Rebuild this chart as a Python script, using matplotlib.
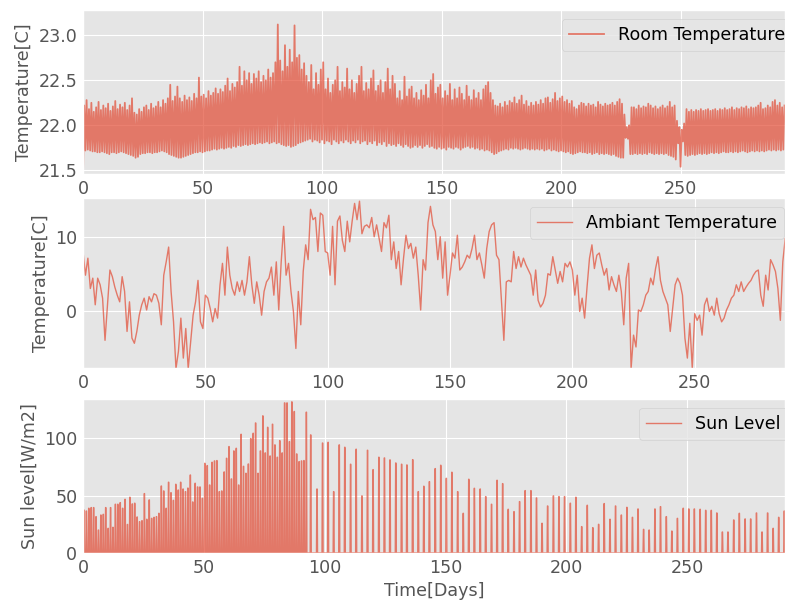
import numpy as np
import matplotlib
matplotlib.use("Agg")
import matplotlib.pyplot as plt

# ---------------- data ----------------
# Room temperature: daily low / daily high  (days 0..293)
room_low = [
    21.45, 21.72, 21.73, 21.72, 21.71, 21.71, 21.70, 21.70, 21.71, 21.70,
    21.69, 21.68, 21.70, 21.70, 21.69, 21.70, 21.71, 21.70, 21.69, 21.68,
    21.67, 21.66, 21.64, 21.65, 21.68, 21.69, 21.69, 21.70, 21.70, 21.69,
    21.70, 21.70, 21.71, 21.72, 21.71, 21.70, 21.68, 21.67, 21.66, 21.65,
    21.64, 21.64, 21.65, 21.66, 21.67, 21.68, 21.69, 21.70, 21.70, 21.71,
    21.70, 21.71, 21.72, 21.72, 21.73, 21.74, 21.73, 21.74, 21.75, 21.74,
    21.75, 21.76, 21.75, 21.77, 21.76, 21.78, 21.77, 21.78, 21.79, 21.78,
    21.79, 21.80, 21.79, 21.80, 21.81, 21.80, 21.81, 21.82, 21.80, 21.81,
    21.82, 21.80, 21.81, 21.79, 21.78, 21.77, 21.78, 21.76, 21.77, 21.78,
    21.80, 21.81, 21.82, 21.83, 21.84, 21.85, 21.82, 21.84, 21.83, 21.81,
    21.84, 21.80, 21.83, 21.82, 21.79, 21.84, 21.82, 21.80, 21.83, 21.81,
    21.84, 21.82, 21.80, 21.83, 21.81, 21.84, 21.80, 21.82, 21.83, 21.79,
    21.82, 21.80, 21.83, 21.78, 21.81, 21.79, 21.82, 21.77, 21.80, 21.78,
    21.79, 21.77, 21.80, 21.78, 21.76, 21.79, 21.77, 21.75, 21.76, 21.78,
    21.76, 21.78, 21.75, 21.77, 21.79, 21.76, 21.77, 21.75, 21.74, 21.76,
    21.74, 21.75, 21.73, 21.76, 21.75, 21.74, 21.76, 21.75, 21.73, 21.75,
    21.76, 21.77, 21.75, 21.76, 21.74, 21.75, 21.73, 21.74, 21.72, 21.73,
    21.72, 21.70, 21.68, 21.69, 21.71, 21.72, 21.73, 21.74, 21.73, 21.75,
    21.74, 21.75, 21.74, 21.73, 21.74, 21.75, 21.74, 21.73, 21.74, 21.73,
    21.74, 21.73, 21.74, 21.72, 21.73, 21.74, 21.72, 21.73, 21.72, 21.71,
    21.72, 21.71, 21.70, 21.71, 21.69, 21.68, 21.69, 21.70, 21.71, 21.70,
    21.70, 21.69, 21.70, 21.68, 21.69, 21.70, 21.68, 21.69, 21.68, 21.69,
    21.68, 21.67, 21.68, 21.66, 21.65, 21.64, 21.64, 21.86, 21.85, 21.68,
    21.68, 21.69, 21.68, 21.69, 21.68, 21.69, 21.68, 21.70, 21.69, 21.68,
    21.69, 21.68, 21.69, 21.68, 21.69, 21.67, 21.66, 21.65, 21.62, 21.80,
    21.54, 21.82, 21.67, 21.66, 21.67, 21.68, 21.67, 21.68, 21.69, 21.68,
    21.69, 21.68, 21.69, 21.70, 21.69, 21.70, 21.69, 21.70, 21.71, 21.70,
    21.70, 21.71, 21.70, 21.71, 21.70, 21.71, 21.72, 21.71, 21.70, 21.71,
    21.72, 21.71, 21.72, 21.71, 21.72, 21.71, 21.72, 21.73, 21.72, 21.73,
    21.72, 21.73, 21.72, 21.73,
]
room_high = [
    22.22, 22.28, 22.18, 22.25, 22.15, 22.20, 22.26, 22.17, 22.22, 22.19,
    22.24, 22.16, 22.21, 22.27, 22.18, 22.23, 22.20, 22.25, 22.17, 22.22,
    22.30, 22.14, 22.12, 22.18, 22.15, 22.20, 22.22, 22.17, 22.24, 22.19,
    22.21, 22.26, 22.20, 22.28, 22.24, 22.30, 22.45, 22.27, 22.32, 22.43,
    22.30, 22.26, 22.33, 22.28, 22.31, 22.27, 22.35, 22.30, 22.53, 22.32,
    22.34, 22.30, 22.38, 22.33, 22.36, 22.41, 22.35, 22.40, 22.37, 22.44,
    22.52, 22.38, 22.46, 22.42, 22.48, 22.65, 22.44, 22.60, 22.50, 22.58,
    22.46, 22.57, 22.52, 22.60, 22.48, 22.55, 22.50, 22.62, 22.53, 22.58,
    22.70, 23.12, 22.72, 22.60, 22.89, 22.65, 22.84, 22.70, 23.11, 22.75,
    22.78, 22.62, 22.69, 22.55, 22.48, 22.67, 22.40, 22.58, 22.45, 22.62,
    22.70, 22.40, 22.52, 22.36, 22.45, 22.50, 22.65, 22.38, 22.48, 22.42,
    22.63, 22.40, 22.50, 22.36, 22.46, 22.55, 22.65, 22.38, 22.47, 22.40,
    22.52, 22.61, 22.38, 22.44, 22.50, 22.36, 22.48, 22.63, 22.40, 22.55,
    22.46, 22.30, 22.38, 22.28, 22.54, 22.32, 22.40, 22.43, 22.30, 22.36,
    22.28, 22.39, 22.33, 22.45, 22.30, 22.50, 22.57, 22.35, 22.42, 22.45,
    22.30, 22.38, 22.33, 22.46, 22.28, 22.40, 22.30, 22.42, 22.35, 22.28,
    22.44, 22.32, 22.28, 22.39, 22.30, 22.36, 22.28, 22.40, 22.44, 22.48,
    22.36, 22.28, 22.22, 22.21, 22.24, 22.20, 22.26, 22.22, 22.27, 22.25,
    22.31, 22.24, 22.28, 22.33, 22.23, 22.27, 22.21, 22.25, 22.22, 22.26,
    22.23, 22.28, 22.24, 22.30, 22.31, 22.25, 22.29, 22.36, 22.27, 22.30,
    22.32, 22.26, 22.28, 22.24, 22.27, 22.20, 22.18, 22.22, 22.25, 22.24,
    22.21, 22.24, 22.22, 22.23, 22.20, 22.26, 22.23, 22.21, 22.24, 22.22,
    22.23, 22.25, 22.22, 22.26, 22.29, 22.24, 22.12, 21.98, 22.00, 22.20,
    22.20, 22.18, 22.22, 22.19, 22.21, 22.20, 22.24, 22.22, 22.19, 22.21,
    22.18, 22.20, 22.22, 22.19, 22.21, 22.26, 22.20, 22.22, 22.05, 21.98,
    21.95, 22.02, 22.18, 22.15, 22.17, 22.15, 22.17, 22.16, 22.18, 22.16,
    22.17, 22.18, 22.16, 22.17, 22.18, 22.16, 22.18, 22.17, 22.19, 22.17,
    22.18, 22.20, 22.17, 22.19, 22.18, 22.20, 22.19, 22.21, 22.18, 22.20,
    22.19, 22.20, 22.22, 22.25, 22.18, 22.19, 22.22, 22.20, 22.26, 22.28,
    22.22, 22.25, 22.20, 22.22,
]

# Ambient temperature, one value per day (days 0..287)
ambient = [
    8.0, 4.8, 7.1, 3.0, 4.4, 0.8, 4.4, 3.5, 1.7, -4.0,
    0.8, 5.5, 4.6, 3.2, 2.1, 1.2, 4.6, 2.6, -2.8, 1.2,
    -3.7, -4.4, -2.8, -0.6, 0.8, 1.7, 0.1, 1.9, 1.2, 2.3,
    2.1, 1.0, -1.9, 4.8, 6.6, 8.6, 2.6, -1.5, -7.8, -5.5,
    -1.0, -6.4, -2.4, -7.8, -4.2, -0.6, 1.2, 4.1, -1.5, -2.4,
    2.1, 1.7, 0.3, -1.5, 0.3, -1.0, 3.5, 6.4, 2.1, 8.6,
    4.8, 3.0, 2.1, 3.9, 2.6, 4.1, 2.1, 3.9, 7.3, 3.5,
    1.0, 3.9, 2.1, -0.6, 2.6, 3.9, 4.4, 5.9, 2.1, 6.6,
    0.1, 6.6, 11.4, 4.8, 6.4, 2.6, -0.1, -5.1, 2.6, -1.9,
    5.3, 8.9, 6.9, 13.7, 12.3, 12.6, 8.0, 13.2, 12.9, 8.0,
    7.8, 4.8, 11.4, 3.5, 12.1, 12.8, 9.5, 8.0, 12.1, 9.3,
    12.1, 14.5, 12.3, 14.8, 10.4, 11.4, 11.6, 11.2, 12.6, 10.0,
    11.6, 9.8, 8.0, 11.9, 11.2, 12.9, 6.9, 9.3, 5.7, 8.0,
    3.5, 7.1, 10.2, 8.4, 9.1, 7.1, 8.6, 4.8, 0.1, 6.9,
    5.5, 11.9, 14.1, 11.6, 10.7, 6.9, 10.0, 4.4, 9.3, 2.1,
    4.8, 7.8, 7.1, 10.2, 5.5, 5.9, 6.6, 7.5, 7.1, 8.4,
    10.2, 6.9, 7.8, 6.2, 4.4, 8.4, 10.7, 11.6, 11.9, 7.5,
    6.9, 1.4, -4.0, 3.9, 4.1, 3.9, 8.0, 5.7, 7.3, 5.9,
    7.1, 6.2, 5.5, 4.8, 2.1, 5.5, 1.4, 0.5, 1.0, 2.1,
    5.0, 4.8, 7.3, 5.5, 3.7, 5.3, 3.9, 6.4, 5.9, 6.6,
    5.5, 2.1, 4.8, -0.1, 1.7, -1.0, 3.2, 7.1, 8.9, 5.7,
    7.5, 7.8, 6.2, 4.8, 5.7, 2.8, 4.6, 3.5, 2.6, 4.8,
    2.6, -1.9, 4.4, 6.4, -7.8, -3.3, -4.9, 0.1, -0.1, 0.8,
    2.1, 2.6, 4.4, 3.5, 5.7, 7.3, 4.1, 2.6, 1.7, 0.8,
    -2.8, 0.3, 3.5, 4.4, 3.7, 2.1, -3.7, -6.4, -1.7, -7.8,
    -0.4, -1.3, -0.6, -3.3, 0.8, 1.7, -0.1, 0.6, -0.6, 1.7,
    -0.4, -1.5, -1.0, 0.1, 0.8, 1.7, 2.1, 3.5, 2.6, 3.9,
    2.6, 3.2, 3.7, 4.1, 4.8, 5.3, 5.5, 2.1, 0.6, 4.8,
    2.8, 6.9, 6.2, 5.3, 3.0, -1.3, 6.6, 9.8,
]

# Sun level: daily peaks for days 0..92
sun_daily_peaks = [
    37.5, 36.6, 39.0, 39.6, 39.6, 31.7, 20.0, 33.1, 33.7, 39.6,
    21.5, 39.6, 22.4, 42.5, 42.5, 43.9, 39.0, 46.8, 24.9, 48.6,
    42.8, 43.4, 31.4, 27.3, 28.2, 51.8, 29.4, 46.3, 30.2, 31.1,
    31.7, 34.6, 58.4, 54.1, 39.0, 61.7, 52.6, 45.9, 59.9, 54.9,
    61.7, 55.8, 53.5, 56.6, 68.0, 44.5, 60.8, 57.6, 57.6, 47.7,
    78.2, 76.2, 59.3, 79.1, 80.3, 80.6, 53.5, 54.1, 70.7, 82.6,
    92.8, 64.6, 89.0, 91.3, 59.3, 103.5, 75.6, 69.5, 77.6, 99.8,
    104.4, 113.4, 69.5, 89.0, 119.6, 87.3, 109.6, 84.6, 112.3, 94.3,
    83.5, 98.0, 87.3, 130.9, 130.9, 97.1, 131.8, 123.4, 86.4, 79.7,
    80.3, 80.6, 122.8,
]
# Sun level: later peaks (day, value)
sun_late_days = [
    94.2, 96.8, 99.1, 101.4, 103.7, 106.0, 108.3, 110.7, 113.0, 115.4,
    117.7, 120.0, 122.4, 124.7, 127.0, 129.4, 131.8, 134.0, 136.4, 138.7,
    141.0, 143.3, 145.7, 148.0, 150.3, 152.6, 155.0, 157.3, 159.6, 161.9,
    164.3, 166.6, 169.0, 171.3, 173.6, 175.9, 178.3, 180.6, 182.9, 185.3,
    187.6, 189.9, 192.2, 194.6, 196.9, 199.2, 201.6, 203.9, 206.3, 208.6,
    210.9, 213.3, 215.6, 218.0, 220.3, 222.7, 225.0, 227.3, 229.6, 231.9,
    234.2, 236.6, 238.9, 241.3, 243.6, 245.9, 248.3, 250.6, 252.9, 255.3,
    257.6, 259.9, 262.2, 264.5, 266.8, 269.2, 271.5, 273.9, 276.2, 278.6,
    280.9, 283.2, 285.5, 287.8, 290.1,
]
sun_late_peaks = [
    103.0, 55.8, 95.9, 96.5, 53.5, 94.3, 92.2, 77.4, 90.5, 49.8,
    89.6, 72.7, 83.5, 82.9, 81.2, 78.5, 77.4, 76.8, 81.4, 53.5,
    58.2, 62.2, 73.6, 76.5, 65.1, 70.4, 53.5, 34.6, 64.3, 56.4,
    55.8, 49.2, 42.5, 63.4, 60.5, 38.1, 36.1, 44.8, 54.4, 54.4,
    48.0, 25.9, 41.0, 49.8, 49.2, 49.2, 43.4, 48.6, 23.0, 41.6,
    22.1, 25.0, 43.1, 29.4, 41.0, 33.1, 39.8, 31.1, 38.4, 20.6,
    20.0, 38.4, 40.4, 31.7, 19.1, 30.2, 39.0, 38.4, 38.4, 38.1,
    37.2, 37.2, 34.9, 18.3, 18.3, 28.8, 34.6, 29.7, 29.7, 34.9,
    18.3, 34.9, 21.5, 31.1, 36.6,
]

x_ticks = [0, 50, 100, 150, 200, 250]

# ---------------- build plotted series ----------------
room_days = np.arange(len(room_low))
room_t = np.column_stack([room_days, room_days + 0.5]).ravel()
room_v = np.column_stack([room_low, room_high]).ravel()

amb_t = np.arange(len(ambient))

sun_days = np.concatenate([np.arange(len(sun_daily_peaks)) + 0.4, sun_late_days])
sun_peaks = np.concatenate([sun_daily_peaks, sun_late_peaks])
w_base, w_top = 0.22, 0.06
sun_t = np.column_stack([sun_days - w_base, sun_days - w_top,
                         sun_days + w_top, sun_days + w_base]).ravel()
zeros = np.zeros_like(sun_peaks)
sun_v = np.column_stack([zeros, sun_peaks, sun_peaks, zeros]).ravel()
sun_t = np.concatenate([[0.0], sun_t])
sun_v = np.concatenate([[0.0], sun_v])

# ---------------- figure ----------------
plt.style.use("ggplot")
FS = 12.6
W, H = 785, 606
fig = plt.figure(figsize=(W / 100, H / 100), dpi=100)

def box(left, top, right, bottom):
    return [left / W, 1 - bottom / H, (right - left) / W, (bottom - top) / H]

ax1 = fig.add_axes(box(83, 10, 785, 174))
ax2 = fig.add_axes(box(83, 198, 785, 368))
ax3 = fig.add_axes(box(83, 399, 785, 553))

color = "#E24A33"
alpha = 0.7
LW = 1.0

ax1.plot(room_t, room_v, color=color, alpha=alpha, lw=1.3, label="Room Temperature")
ax1.set_xlim(0, 293.7)
ax1.set_ylim(21.459, 23.281)
ax1.set_yticks([21.5, 22.0, 22.5, 23.0])
ax1.set_ylabel("Temperature[C]", fontsize=FS)
ax1.legend(loc="upper right", bbox_to_anchor=(1.0224, 1.0), fontsize=FS)

ax2.plot(amb_t, ambient, color=color, alpha=alpha, lw=LW, label="Ambiant Temperature")
ax2.set_xlim(0, 286.9)
ax2.set_ylim(-7.74, 15.23)
ax2.set_yticks([0, 10])
ax2.set_ylabel("Temperature[C]", fontsize=FS)
ax2.legend(loc="upper right", bbox_to_anchor=(1.011, 1.0), fontsize=FS)

ax3.plot(sun_t, sun_v, color=color, alpha=alpha, lw=LW, label="Sun Level")
ax3.set_xlim(0, 290.4)
ax3.set_ylim(0, 134.3)
ax3.set_yticks([0, 50, 100])
ax3.set_ylabel("Sun level[W/m2]", fontsize=FS)
ax3.set_xlabel("Time[Days]", fontsize=FS)
ax3.legend(loc="upper right", bbox_to_anchor=(1.0167, 1.0), fontsize=FS)

for ax in (ax1, ax2, ax3):
    ax.set_xticks(x_ticks)
    ax.tick_params(labelsize=FS, length=0, pad=4)

fig.savefig("out.png", dpi=100)
